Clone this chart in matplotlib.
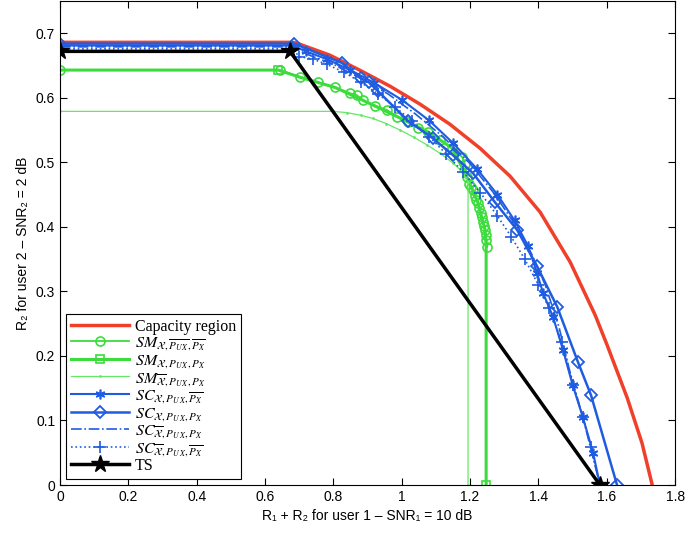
import numpy as np
import matplotlib
matplotlib.use('Agg')
import matplotlib.pyplot as plt

plt.rcParams['font.family'] = ['Liberation Sans', 'DejaVu Sans']
plt.rcParams['mathtext.fontset'] = 'stix'

# capacity region
cap_x = [0.0, 0.68, 0.694, 0.790, 0.878, 0.966, 1.054, 1.141, 1.229, 1.317, 1.405, 1.493, 1.566, 1.601, 1.660, 1.703, 1.733]
cap_y = [0.686, 0.686, 0.6845, 0.666, 0.6426, 0.6179, 0.590, 0.559, 0.5219, 0.4785, 0.4228, 0.3453, 0.2633, 0.2168, 0.1347, 0.0651, 0.0]

# SM X, PUX bar, PX bar (circles)
smc_x = [0.0, 0.644, 0.702, 0.755, 0.805, 0.849, 0.869, 0.887, 0.922, 0.957, 0.986, 1.019, 1.048, 1.077, 1.112, 1.148, 1.177,
         1.185, 1.191, 1.197, 1.203, 1.209, 1.214, 1.218, 1.223, 1.227, 1.231, 1.235, 1.238, 1.241, 1.244, 1.246, 1.248, 1.250]
smc_y = [0.643, 0.643, 0.632, 0.624, 0.616, 0.607, 0.604, 0.596, 0.588, 0.581, 0.571, 0.562, 0.554, 0.547, 0.534, 0.522, 0.508,
         0.497, 0.477, 0.467, 0.462, 0.457, 0.448, 0.442, 0.437, 0.430, 0.422, 0.415, 0.408, 0.401, 0.395, 0.388, 0.380, 0.369]

# SM X, PUX, PX (squares)
sms_x = [0.0, 0.638, 0.702, 0.805, 0.887, 0.986, 1.077, 1.148, 1.191, 1.223, 1.244, 1.247, 1.247]
sms_y = [0.643, 0.643, 0.632, 0.616, 0.596, 0.571, 0.547, 0.522, 0.477, 0.437, 0.395, 0.369, 0.0]

# SM Xbar, PUX, PX (thin)
smt_x = [0.0, 0.80, 0.840, 0.880, 0.916, 0.955, 0.995, 1.035, 1.074, 1.112, 1.150, 1.170, 1.185, 1.194, 1.194]
smt_y = [0.579, 0.579, 0.577, 0.573, 0.568, 0.560, 0.550, 0.539, 0.527, 0.514, 0.499, 0.489, 0.477, 0.470, 0.0]

# SC X, PUX, PX bar (stars)
scs_x = [0.0, 0.68, 0.72, 0.78, 0.85, 0.92, 1.0, 1.08, 1.15, 1.22, 1.28, 1.33, 1.37, 1.396, 1.414, 1.443, 1.472, 1.50, 1.53, 1.56, 1.58]
scs_y = [0.681, 0.681, 0.672, 0.660, 0.643, 0.623, 0.597, 0.565, 0.530, 0.490, 0.450, 0.410, 0.370, 0.328, 0.297, 0.260, 0.209, 0.155, 0.105, 0.050, 0.0]

# SC X, PUX, PX (diamonds)
scd_x = [0.0, 0.685, 0.825, 0.881, 0.904, 0.931, 1.019, 1.092, 1.150, 1.209, 1.273, 1.338, 1.396, 1.455, 1.516, 1.554, 1.630]
scd_y = [0.684, 0.684, 0.654, 0.630, 0.624, 0.610, 0.564, 0.537, 0.511, 0.483, 0.438, 0.395, 0.339, 0.276, 0.190, 0.139, 0.0]

# SC Xbar, PUX, PX (dash-dot)
scdd_x = [0.0, 0.68, 0.72, 0.80, 0.88, 0.96, 1.04, 1.12, 1.20, 1.27, 1.33, 1.38, 1.42, 1.46, 1.49, 1.53, 1.58]
scdd_y = [0.679, 0.679, 0.668, 0.652, 0.630, 0.606, 0.575, 0.540, 0.498, 0.452, 0.405, 0.358, 0.310, 0.245, 0.180, 0.105, 0.0]

# SC Xbar, PUX, PX bar (plus)
scp_x = [0.0, 0.68, 0.70, 0.74, 0.78, 0.83, 0.88, 0.93, 0.98, 1.03, 1.08, 1.13, 1.18, 1.23, 1.28, 1.32, 1.36, 1.40, 1.43, 1.469, 1.501, 1.53, 1.554, 1.58]
scp_y = [0.676, 0.676, 0.664, 0.660, 0.652, 0.640, 0.624, 0.606, 0.586, 0.564, 0.540, 0.513, 0.485, 0.453, 0.417, 0.385, 0.350, 0.310, 0.275, 0.221, 0.155, 0.105, 0.059, 0.0]

# time sharing
ts_x = [0.0, 0.673, 1.58]
ts_y = [0.672, 0.672, 0.0]

red = '#f0402a'
green = '#3cdc3c'
lgreen = '#66e866'
blue = '#1f5ce0'

fig = plt.figure(figsize=(6.85, 5.36), dpi=100)
ax = fig.add_axes([0.0876, 0.0951, 0.898, 0.903])

ax.plot(cap_x, cap_y, color=red, lw=2.5, label='Capacity region')
ax.plot(smc_x, smc_y, color=green, lw=1.3, marker='o', ms=6.5, mfc='none', mew=1.2,
        label=r'$SM_{\mathcal{X},\overline{P_{U\,X}},\overline{P_X}}$')
ax.plot(sms_x, sms_y, color=green, lw=2.2, marker='s', ms=6, mfc='none', mew=1.2, markevery=[1, 12],
        label=r'$SM_{\mathcal{X},P_{U\,X},P_X}$')
ax.plot(smt_x, smt_y, color=lgreen, lw=0.9, marker='.', ms=2,
        label=r'$SM_{\overline{\mathcal{X}},P_{U\,X},P_X}$')
ax.plot(scs_x, scs_y, color=blue, lw=1.5, marker=(6, 2, 0), ms=7, mew=1.2,
        label=r'$SC_{\mathcal{X},P_{U\,X},\overline{P_X}}$')
ax.plot(scd_x, scd_y, color=blue, lw=1.8, marker='D', ms=6.5, mfc='none', mew=1.3,
        label=r'$SC_{\mathcal{X},P_{U\,X},P_X}$')
ax.plot(scdd_x, scdd_y, color=blue, lw=1.2, ls='-.',
        label=r'$SC_{\overline{\mathcal{X}},P_{U\,X},P_X}$')
ax.plot(scp_x, scp_y, color=blue, lw=1.2, ls=':', marker='+', ms=8, mew=1.2,
        label=r'$SC_{\overline{\mathcal{X}},P_{U\,X},\overline{P_X}}$')
ax.plot(ts_x, ts_y, color='black', lw=2.5, marker='*', ms=13, label='TS')

ax.set_xlim(0, 1.8)
ax.set_ylim(0, 0.75)
ax.set_xticks(np.arange(0, 1.81, 0.2))
ax.set_yticks(np.arange(0, 0.71, 0.1))
ax.set_xticklabels(['0', '0.2', '0.4', '0.6', '0.8', '1', '1.2', '1.4', '1.6', '1.8'])
ax.set_yticklabels(['0', '0.1', '0.2', '0.3', '0.4', '0.5', '0.6', '0.7'])
ax.tick_params(direction='in', top=True, right=True, labelsize=10, length=5)
for s in ax.spines.values():
    s.set_linewidth(0.8)

ax.set_xlabel('R\u2081 + R\u2082 for user 1 \u2013 SNR\u2081 = 10 dB', fontsize=10)
ax.set_ylabel('R\u2082 for user 2 \u2013 SNR\u2082 = 2 dB', fontsize=10)

leg = ax.legend(loc='lower left', prop={'family': 'Liberation Serif', 'size': 11.5}, handlelength=3.6,
                fancybox=False, edgecolor='black', framealpha=1, borderaxespad=0.4,
                labelspacing=0.0, borderpad=0.3, handletextpad=0.4)
leg.get_frame().set_linewidth(0.8)

fig.savefig('out.png', dpi=100)
